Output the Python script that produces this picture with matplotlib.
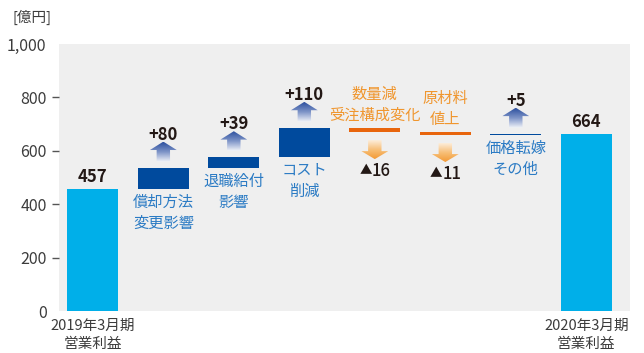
import matplotlib
matplotlib.use('Agg')
import matplotlib.pyplot as plt
from matplotlib.patches import Polygon
from matplotlib.colors import LinearSegmentedColormap
import numpy as np

plt.rcParams['font.family'] = ['Noto Sans CJK JP', 'DejaVu Sans']

# --- data ---
categories = ['2019年3月期\n営業利益', '償却方法\n変更影響', '退職給付\n影響', 'コスト\n削減',
              '数量減\n受注構成変化', '原材料\n値上', '価格転嫁\nその他', '2020年3月期\n営業利益']
start_value = 457
deltas = [80, 39, 110, -16, -11, 5]
end_value = 664
y_ticks = [0, 200, 400, 600, 800, 1000]

# --- colours ---
BG = '#efefef'
TOTAL_C = '#00afe9'
UP_C = '#004a9d'
DOWN_C = '#e8650d'
UP_TXT = '#2b7bc4'
DOWN_TXT = '#f0962e'
TXT = '#231815'
AX_TXT = '#3c3c3c'
up_cmap = LinearSegmentedColormap.from_list('up', ['#f2f4f9', '#7f95c8', '#2c4f9e'])
down_cmap = LinearSegmentedColormap.from_list('down', ['#f39a35', '#f7bf78', '#fdeedb'])

fig = plt.figure(figsize=(6.44, 3.53), dpi=100)
ax = fig.add_axes([59 / 644, 1 - 311 / 353, 571 / 644, 267 / 353])
ax.set_facecolor(BG)

UNIT = 1000 / 267  # data units per pixel


def grad_arrow(x, y_tail, y_tip, cmap):
    hw, sw = 0.19, 0.095
    head = 0.42 * (y_tip - y_tail)
    pts = [(x - sw, y_tail), (x + sw, y_tail), (x + sw, y_tip - head), (x + hw, y_tip - head),
           (x, y_tip), (x - hw, y_tip - head), (x - sw, y_tip - head)]
    patch = Polygon(pts, closed=True, facecolor='none', edgecolor='none')
    ax.add_patch(patch)
    grad = np.linspace(0, 1, 256).reshape(-1, 1)
    im = ax.imshow(grad, extent=[x - hw, x + hw, min(y_tail, y_tip), max(y_tail, y_tip)],
                   origin='lower', cmap=cmap, aspect='auto', zorder=3)
    im.set_clip_path(patch)


# totals
ax.bar([0, len(categories) - 1], [start_value, end_value], width=0.72, color=TOTAL_C, zorder=2)
for xi, v in [(0, start_value), (len(categories) - 1, end_value)]:
    ax.text(xi, v + 12 * UNIT, f'{v}', ha='center', va='center', fontsize=12,
            fontweight='bold', color=TXT)

# deltas
level = start_value
for i, d in enumerate(deltas):
    xi = i + 1
    bottom = level if d > 0 else level + d
    top = bottom + abs(d)
    color = UP_C if d > 0 else DOWN_C
    ax.bar(xi, abs(d), bottom=bottom, width=0.72, color=color, zorder=2)
    if d > 0:
        tail = top + 6 * UNIT
        tip = tail + 20 * UNIT
        grad_arrow(xi, tail, tip, up_cmap)
        ax.text(xi, tip + 7 * UNIT, f'+{d}', ha='center', va='center', fontsize=12,
                fontweight='bold', color=TXT)
        ax.text(xi, bottom - 5 * UNIT, categories[xi], ha='center', va='top', fontsize=11,
                color=UP_TXT, linespacing=1.3)
    else:
        tail = bottom - 8 * UNIT
        tip = tail - 19 * UNIT
        grad_arrow(xi, tail, tip, down_cmap)
        ax.text(xi - 0.04, tip - 12 * UNIT, '▲', ha='right', va='center', fontsize=9,
                color=TXT)
        ax.text(xi - 0.04, tip - 12 * UNIT, f'{-d}', ha='left', va='center', fontsize=12,
                fontweight='medium', color=TXT)
        ax.text(xi, top + 4 * UNIT, categories[xi], ha='center', va='bottom', fontsize=11,
                color=DOWN_TXT, linespacing=1.3)
    level += d

ax.set_xlim(-0.48, 7.62)
ax.set_ylim(0, 1000)
ax.set_yticks(y_ticks)
ax.set_yticklabels([f'{v:,}' for v in y_ticks], fontsize=11.5, color=AX_TXT)
ax.set_xticks([0, len(categories) - 1])
ax.set_xticklabels([categories[0], categories[-1]], fontsize=10.5, color=AX_TXT, linespacing=1.3)
ax.tick_params(axis='y', length=5, width=1, color='#555555', pad=4)
ax.tick_params(axis='x', length=0, pad=6)
ticks = ax.yaxis.get_major_ticks()
ticks[0].tick1line.set_visible(False)
ticks[-1].tick1line.set_visible(False)
for s in ax.spines.values():
    s.set_visible(False)

fig.text(13 / 644, 1 - 17 / 353, '[億円]', fontsize=10.5, color=AX_TXT, va='center', ha='left')

plt.savefig('out.png', dpi=100)
plt.close()
